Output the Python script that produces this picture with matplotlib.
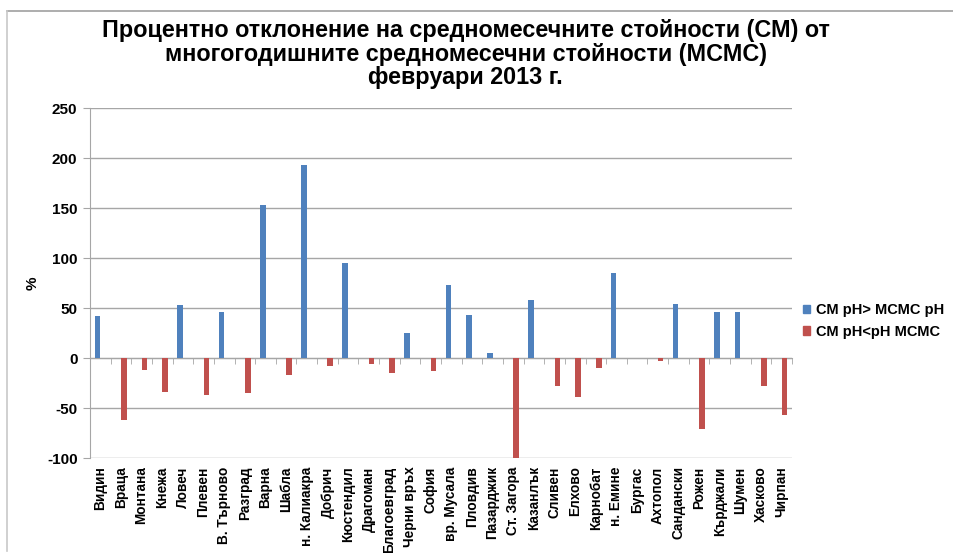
import numpy as np
import matplotlib.pyplot as plt
from matplotlib.lines import Line2D
from matplotlib.patches import Patch

plt.rcParams['font.family'] = ['Liberation Sans', 'DejaVu Sans']
plt.rcParams['axes.unicode_minus'] = False

stations = ['Видин', 'Враца', 'Монтана', 'Кнежа', 'Ловеч', 'Плевен', 'В. Търново',
            'Разград', 'Варна', 'Шабла', 'н. Калиакра', 'Добрич', 'Кюстендил',
            'Драгоман', 'Благоевград', 'Черни връх', 'София', 'вр. Мусала', 'Пловдив',
            'Пазарджик', 'Ст. Загора', 'Казанлък', 'Сливен', 'Елхово', 'Карнобат',
            'н. Емине', 'Бургас', 'Ахтопол', 'Сандански', 'Рожен', 'Кърджали',
            'Шумен', 'Хасково', 'Чирпан']

# отклонение в %, nan = няма стойност в серията
above = [42.5, np.nan, np.nan, np.nan, 53, np.nan, 46, np.nan, 153, np.nan, 193,
         np.nan, 95, np.nan, np.nan, 25.5, np.nan, 73.5, 43.5, 5, np.nan, 58,
         np.nan, np.nan, np.nan, 85, np.nan, np.nan, 54.5, np.nan, 46, 46,
         np.nan, np.nan]
below = [np.nan, -62, -11.5, -34, np.nan, -37, np.nan, -35, np.nan, -17, np.nan,
         -7.5, np.nan, -6, -14.5, np.nan, -13, np.nan, np.nan, np.nan, -100, np.nan,
         -27.5, -39, -9.5, np.nan, 0, -3, np.nan, -71, np.nan, np.nan, -28, -57]

blue = '#4F81BD'
red = '#C0504D'
grid = '#A6A6A6'

fig = plt.figure(figsize=(9.54, 5.53), dpi=100)
ax = fig.add_axes([90 / 954, 95 / 553, 702 / 954, 350 / 553])

# горната рамка става хоризонтална ос при 0 (преди настройката на деленията)
ax.spines['top'].set_position(('data', 0))
ax.spines['top'].set_color(grid)
ax.spines['left'].set_color(grid)
ax.spines['bottom'].set_visible(False)
ax.spines['right'].set_visible(False)

x = np.arange(len(stations))
w = 0.275
ax.bar(x - w / 2, above, w, color=blue, zorder=3)
ax.bar(x + w / 2, below, w, color=red, zorder=3)

ax.set_xlim(-0.5, len(stations) - 0.5)
ax.set_ylim(-100, 250)
ax.set_yticks(np.arange(-100, 251, 50))
ax.yaxis.grid(True, color=grid, linewidth=1)
ax.set_axisbelow(True)

ax.set_xticks(x)
ax.set_xticklabels(stations, rotation=90, fontsize=9.8, fontweight='bold')
ax.set_xticks(np.arange(len(stations) + 1) - 0.5, minor=True)
ax.tick_params(axis='x', which='major', length=0, pad=6)
ax.tick_params(axis='x', which='minor', top=True, bottom=False, direction='in',
               length=4, color=grid)
ax.tick_params(axis='y', length=5, color=grid, labelsize=11, pad=4)
for lab in ax.get_yticklabels():
    lab.set_fontweight('bold')

ax.set_ylabel('%', fontsize=11, fontweight='bold', labelpad=5)

fig.text(0.488, 1 - 54 / 553,
         'Процентно отклонение на средномесечните стойности (СМ) от\n'
         'многогодишните средномесечни стойности (МСМС)\n'
         'февруари 2013 г.',
         ha='center', va='center', fontsize=16.8, fontweight='bold', linespacing=1.05)

handles = [Patch(color=blue, label='СМ pH> МСМС pH'),
           Patch(color=red, label='СМ pH<pH МСМС')]
fig.legend(handles=handles, loc='center left', bbox_to_anchor=(790 / 954, 1 - 321 / 553),
           frameon=False, prop={'weight': 'bold', 'size': 10.5},
           handlelength=0.5, handleheight=0.5, handletextpad=0.35, labelspacing=0.5)

# рамка на диаграмата
fig.add_artist(Line2D([7 / 954, 1], [1 - 11 / 553, 1 - 11 / 553], color='#A0A0A0', lw=1.2))
fig.add_artist(Line2D([7 / 954, 7 / 954], [1 - 11 / 553, 2 / 553], color='#C8C8C8', lw=1.2))

fig.savefig('out.png', dpi=100)
